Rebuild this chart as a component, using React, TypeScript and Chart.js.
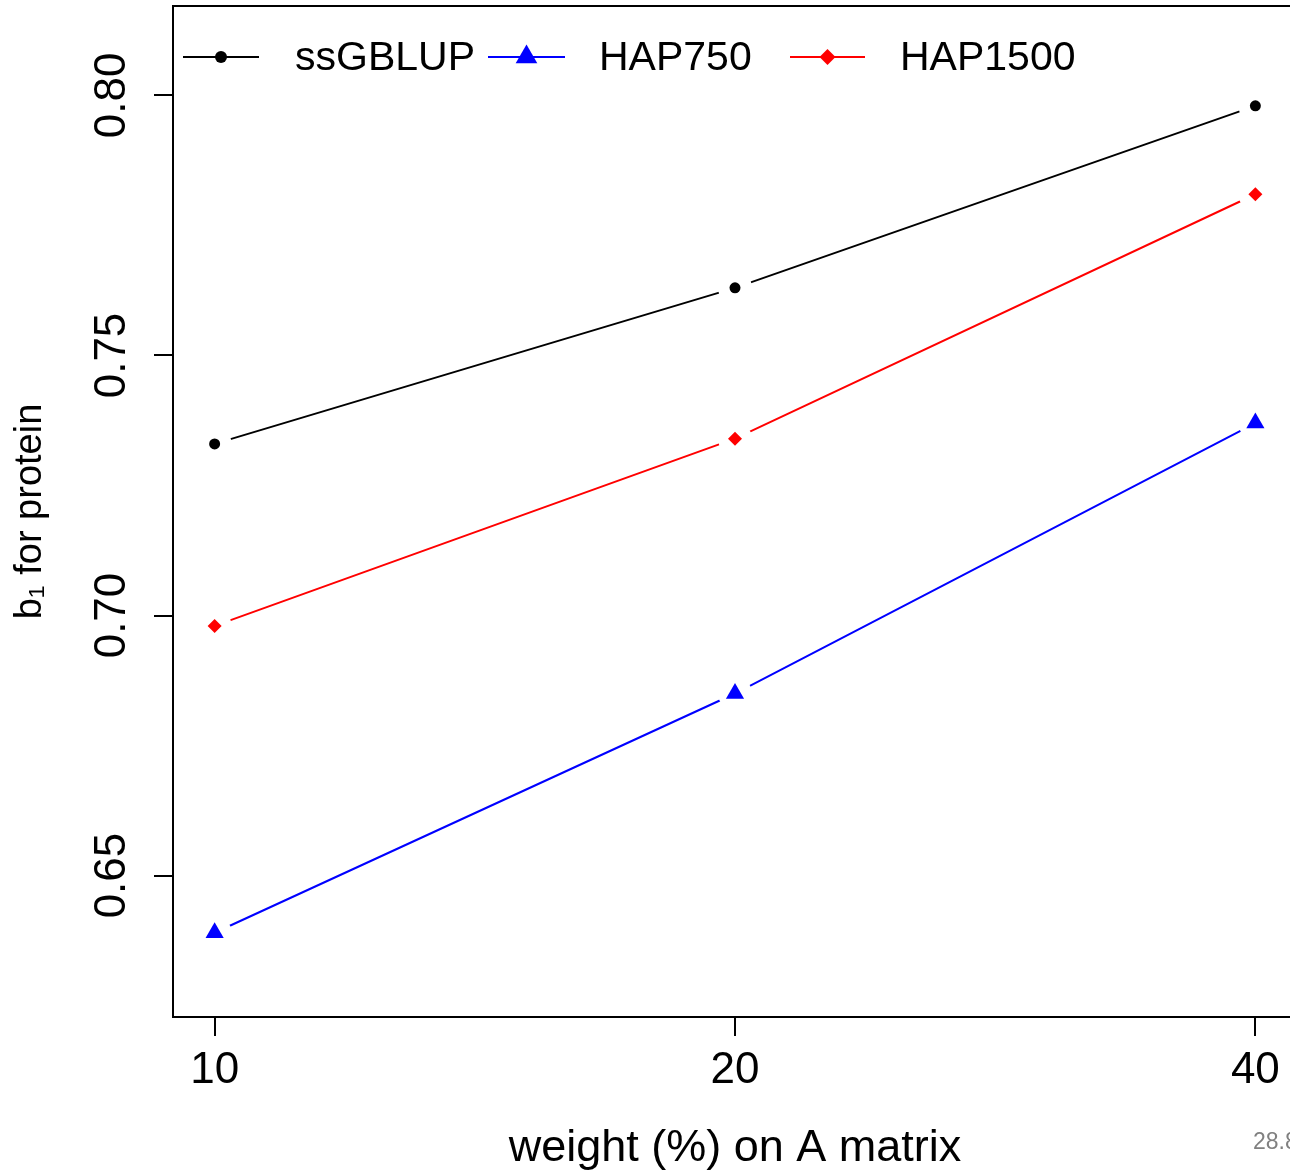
import React, { useEffect, useRef } from 'react';
import { Chart, registerables } from 'chart.js';

Chart.register(...registerables);

// ---- data ----
const categories = ['10', '20', '40'];
const ssGBLUP = [0.733, 0.763, 0.798];
const hap750 = [0.639, 0.685, 0.737];
const hap1500 = [0.698, 0.734, 0.781];
const yTicks = [0.65, 0.7, 0.75, 0.8];
const yTickLabels = ['0.65', '0.70', '0.75', '0.80'];
const seriesNames = ['ssGBLUP', 'HAP750', 'HAP1500'];

const FONT = "'Liberation Sans', Arial, Helvetica, sans-serif";
const CANVAS_W = 1340;
const CANVAS_H = 1171;

const seriesStyles = [
  { color: '#000000', style: 'circle', radius: 5.5, legendRadius: 6 },
  { color: '#0000FF', style: 'triangle', radius: 10.5, legendRadius: 12.5 },
  { color: '#FF0000', style: 'rectRot', radius: 7, legendRadius: 8 },
];
const seriesData = [ssGBLUP, hap750, hap1500];

// legend layout (pixel positions of R-style legend inside the plot)
const legendLayout = [
  { x0: 183, x1: 259, text: 295 },
  { x0: 488, x1: 565, text: 599 },
  { x0: 790, x1: 865, text: 900 },
];

function drawMarker(ctx: CanvasRenderingContext2D, style: string, x: number, y: number, r: number) {
  ctx.beginPath();
  if (style === 'circle') {
    ctx.arc(x, y, r, 0, Math.PI * 2);
  } else if (style === 'triangle') {
    ctx.moveTo(x, y - r);
    ctx.lineTo(x + r * Math.sin((2 * Math.PI) / 3), y + r * 0.5);
    ctx.lineTo(x - r * Math.sin((2 * Math.PI) / 3), y + r * 0.5);
    ctx.closePath();
  } else {
    ctx.moveTo(x, y - r);
    ctx.lineTo(x + r, y);
    ctx.lineTo(x, y + r);
    ctx.lineTo(x - r, y);
    ctx.closePath();
  }
  ctx.fill();
}

const decorPlugin = {
  id: 'rDecor',
  afterDraw(chart: any) {
    const ctx: CanvasRenderingContext2D = chart.ctx;
    const { left, top, right, bottom } = chart.chartArea;
    ctx.save();
    // top and right parts of the box
    ctx.strokeStyle = '#000';
    ctx.lineWidth = 2;
    ctx.beginPath();
    ctx.moveTo(left - 1, top);
    ctx.lineTo(right, top);
    ctx.lineTo(right, bottom);
    ctx.stroke();

    // rotated y tick labels (R style, parallel to axis)
    const ys = chart.scales.y;
    ctx.font = `44px ${FONT}`;
    ctx.fillStyle = '#000';
    ctx.textAlign = 'center';
    ctx.textBaseline = 'middle';
    yTicks.forEach((v, i) => {
      const py = ys.getPixelForValue(v);
      ctx.save();
      ctx.translate(113, py);
      ctx.rotate(-Math.PI / 2);
      ctx.fillText(yTickLabels[i], 0, 0);
      ctx.restore();
    });

    // legend
    const ly = 57;
    seriesNames.forEach((name, i) => {
      const st = seriesStyles[i];
      const lay = legendLayout[i];
      ctx.strokeStyle = st.color;
      ctx.fillStyle = st.color;
      ctx.lineWidth = 2;
      ctx.beginPath();
      ctx.moveTo(lay.x0, ly);
      ctx.lineTo(lay.x1, ly);
      ctx.stroke();
      drawMarker(ctx, st.style, (lay.x0 + lay.x1) / 2, ly, st.legendRadius);
      ctx.fillStyle = '#000';
      ctx.font = `41px ${FONT}`;
      ctx.textAlign = 'left';
      ctx.textBaseline = 'middle';
      ctx.fillText(name, lay.text, ly + 1.5);
    });

    // slide number fragment
    ctx.font = `23px ${FONT}`;
    ctx.fillStyle = '#808080';
    ctx.textAlign = 'left';
    ctx.textBaseline = 'middle';
    ctx.fillText('28.8', 1253, 1143);
    ctx.restore();
  },
};

export default function App() {
  const ref = useRef<HTMLCanvasElement | null>(null);

  useEffect(() => {
    if (!ref.current) return;
    const datasets: any[] = [];
    seriesData.forEach((vals, i) => {
      const st = seriesStyles[i];
      const pts = vals.map((y, k) => ({ x: k, y }));
      datasets.push({
        label: seriesNames[i] + ' line',
        data: pts,
        borderColor: st.color,
        borderWidth: 2,
        pointRadius: 0,
        fill: false,
        tension: 0,
        order: 3,
      });
      datasets.push({
        label: seriesNames[i] + ' gap',
        data: pts,
        showLine: false,
        pointRadius: 17,
        pointBackgroundColor: '#ffffff',
        pointBorderColor: '#ffffff',
        pointBorderWidth: 0,
        order: 2,
      });
      datasets.push({
        label: seriesNames[i],
        data: pts,
        showLine: false,
        pointStyle: st.style,
        pointRadius: st.radius,
        pointBackgroundColor: st.color,
        pointBorderColor: st.color,
        pointBorderWidth: 0,
        order: 1,
      });
    });

    const chart = new Chart(ref.current, {
      type: 'line',
      data: { datasets },
      plugins: [decorPlugin],
      options: {
        responsive: false,
        animation: false,
        events: [],
        layout: { autoPadding: false, padding: { top: 6, right: CANVAS_W - 1297, left: 0, bottom: 0 } },
        plugins: { legend: { display: false }, tooltip: { enabled: false } },
        scales: {
          x: {
            type: 'linear',
            min: -0.08,
            max: 2.08,
            afterBuildTicks: (scale: any) => {
              scale.ticks = categories.map((_, i) => ({ value: i }));
            },
            afterFit: (scale: any) => {
              scale.height = CANVAS_H - 1017;
            },
            ticks: {
              callback: (v: any) => categories[v as number] ?? '',
              font: { family: FONT, size: 44 },
              color: '#000',
              padding: 8,
              maxRotation: 0,
              autoSkip: false,
            },
            grid: { display: true, drawOnChartArea: false, drawTicks: true, tickLength: 19, color: '#000', lineWidth: 2 },
            border: { display: true, color: '#000', width: 2 },
            title: {
              display: true,
              text: 'weight (%) on A matrix',
              color: '#000',
              font: { family: FONT, size: 45, lineHeight: 1 },
              padding: { top: 0, bottom: 0 },
            },
          },
          y: {
            type: 'linear',
            min: 0.6228,
            max: 0.8172,
            afterBuildTicks: (scale: any) => {
              scale.ticks = yTicks.map((v) => ({ value: v }));
            },
            afterFit: (scale: any) => {
              scale.width = 173;
            },
            ticks: { display: false },
            grid: { display: true, drawOnChartArea: false, drawTicks: true, tickLength: 19, color: '#000', lineWidth: 2 },
            border: { display: true, color: '#000', width: 2 },
            title: {
              display: true,
              text: 'b\u2081 for protein',
              color: '#000',
              font: { family: FONT, size: 38, lineHeight: 1.2 },
              padding: { top: 8, bottom: 0 },
            },
          },
        },
      } as any,
    });
    return () => chart.destroy();
  }, []);

  return (
    <div style={{ position: 'fixed', left: 0, top: 0, width: 1290, height: 1171, overflow: 'hidden', background: '#fff' }}>
      <canvas ref={ref} width={CANVAS_W} height={CANVAS_H} style={{ display: 'block' }} />
    </div>
  );
}
